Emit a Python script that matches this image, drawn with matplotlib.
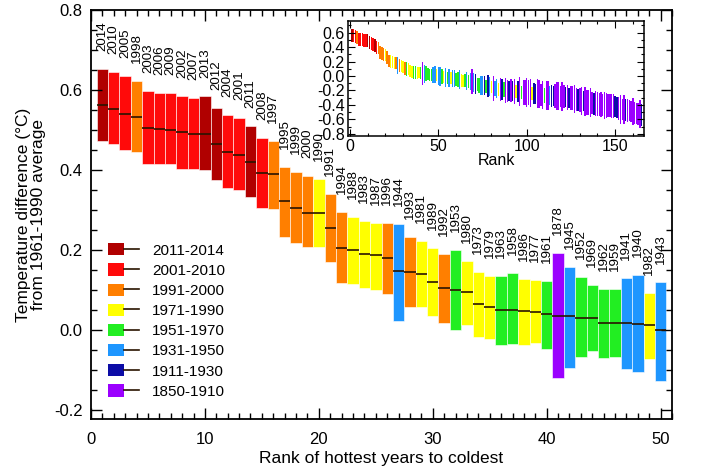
import numpy as np
import matplotlib.pyplot as plt
from matplotlib.patches import Patch
from matplotlib.lines import Line2D
from matplotlib.legend_handler import HandlerTuple
from matplotlib.ticker import MultipleLocator, FormatStrFormatter

plt.rcParams['font.family'] = ['Liberation Sans', 'DejaVu Sans']
plt.rcParams['axes.unicode_minus'] = False

# 50 hottest years, hottest first
rank_years = [2014, 2010, 2005, 1998, 2003, 2006, 2009, 2002, 2007, 2013,
              2012, 2004, 2001, 2011, 2008, 1997, 1995, 1999, 2000, 1990,
              1991, 1994, 1988, 1983, 1987, 1996, 1944, 1993, 1981, 1989,
              1992, 1953, 1980, 1973, 1979, 1963, 1958, 1986, 1977, 1961,
              1878, 1945, 1952, 1969, 1962, 1959, 1941, 1940, 1982, 1943]
med = [0.563, 0.553, 0.541, 0.533, 0.506, 0.503, 0.501, 0.494, 0.491, 0.490,
       0.465, 0.446, 0.437, 0.419, 0.393, 0.389, 0.322, 0.306, 0.293, 0.292,
       0.255, 0.206, 0.199, 0.190, 0.187, 0.181, 0.147, 0.145, 0.141, 0.120,
       0.105, 0.100, 0.094, 0.065, 0.058, 0.050, 0.049, 0.047, 0.046, 0.040,
       0.036, 0.034, 0.031, 0.030, 0.018, 0.017, 0.017, 0.016, 0.012, 0.000]
hi = [0.653, 0.644, 0.634, 0.622, 0.598, 0.592, 0.592, 0.586, 0.579, 0.584,
      0.556, 0.537, 0.529, 0.511, 0.480, 0.473, 0.408, 0.395, 0.384, 0.378,
      0.339, 0.296, 0.283, 0.273, 0.268, 0.267, 0.264, 0.233, 0.222, 0.204,
      0.190, 0.200, 0.173, 0.146, 0.134, 0.136, 0.142, 0.128, 0.125, 0.123,
      0.192, 0.157, 0.132, 0.113, 0.102, 0.103, 0.130, 0.138, 0.093, 0.119]
lo = [0.473, 0.464, 0.450, 0.445, 0.415, 0.415, 0.415, 0.403, 0.403, 0.400,
      0.375, 0.356, 0.350, 0.332, 0.304, 0.303, 0.233, 0.217, 0.207, 0.208,
      0.169, 0.118, 0.115, 0.105, 0.101, 0.090, 0.023, 0.057, 0.057, 0.036,
      0.017, 0.000, 0.013, -0.017, -0.022, -0.037, -0.036, -0.037, -0.033, -0.047,
      -0.119, -0.094, -0.068, -0.052, -0.069, -0.068, -0.097, -0.104, -0.072, -0.127]

period_labels = ['2011-2014', '2001-2010', '1991-2000', '1971-1990',
                 '1951-1970', '1931-1950', '1911-1930', '1850-1910']
period_starts = [2011, 2001, 1991, 1971, 1951, 1931, 1911, 1850]
period_colors = ['#b00000', '#ff0a0a', '#ff7f00', '#ffff00',
                 '#22ee22', '#1e96ff', '#0c0ca6', '#9b00ff']

# all years 1850-2014 for the inset
all_years = list(range(1850, 2015))
all_anom = [-0.373, -0.218, -0.228, -0.269, -0.248, -0.272, -0.358, -0.461, -0.467, -0.284,
            -0.343, -0.407, -0.524, -0.278, -0.494, -0.279, -0.251, -0.321, -0.238, -0.262,
            -0.276, -0.335, -0.227, -0.304, -0.368, -0.395, -0.384, -0.075, 0.036, -0.230,
            -0.227, -0.200, -0.213, -0.296, -0.409, -0.389, -0.367, -0.418, -0.307, -0.171,
            -0.416, -0.330, -0.455, -0.473, -0.410, -0.390, -0.186, -0.206, -0.412, -0.289,
            -0.203, -0.259, -0.402, -0.479, -0.520, -0.377, -0.283, -0.465, -0.511, -0.522,
            -0.490, -0.544, -0.437, -0.424, -0.244, -0.141, -0.383, -0.468, -0.333, -0.275,
            -0.247, -0.187, -0.302, -0.276, -0.294, -0.215, -0.108, -0.210, -0.206, -0.350,
            -0.137, -0.087, -0.137, -0.273, -0.131, -0.178, -0.147, -0.026, -0.006, -0.052,
            0.016, 0.017, -0.027, 0.000, 0.147, 0.034, -0.071, -0.038, -0.039, -0.074,
            -0.173, -0.052, 0.031, 0.100, -0.129, -0.190, -0.267, -0.007, 0.049, 0.017,
            -0.049, 0.040, 0.018, 0.050, -0.223, -0.140, -0.068, -0.074, -0.113, 0.030,
            -0.027, -0.186, -0.065, 0.065, -0.214, -0.149, -0.241, 0.046, -0.062, 0.058,
            0.094, 0.141, 0.012, 0.190, -0.014, -0.030, 0.047, 0.187, 0.199, 0.120,
            0.292, 0.255, 0.105, 0.145, 0.206, 0.322, 0.181, 0.389, 0.533, 0.306,
            0.293, 0.437, 0.494, 0.506, 0.446, 0.541, 0.503, 0.491, 0.393, 0.501,
            0.553, 0.419, 0.465, 0.490, 0.563]
# uncertainty half width per decade, 1850s ... 2010s
decade_halfwidth = [0.20, 0.19, 0.17, 0.17, 0.16, 0.15, 0.15, 0.14, 0.13,
                    0.12, 0.10, 0.09, 0.085, 0.085, 0.088, 0.09, 0.09]


def colour_of(year):
    for start, c in zip(period_starts, period_colors):
        if year >= start:
            return c
    return period_colors[-1]


W, H = 717, 472
fig = plt.figure(figsize=(W / 100, H / 100), dpi=100)
ax = fig.add_axes([91 / W, 1 - 419 / H, 581 / W, 409 / H])

ranks = np.arange(1, len(rank_years) + 1)
cols = [colour_of(y) for y in rank_years]
ax.bar(ranks, np.array(hi) - np.array(lo), bottom=lo, width=1.0, color=cols,
       edgecolor='white', linewidth=0.4)
ax.hlines(med, ranks - 0.5, ranks + 0.5, color='#2a1400', lw=1.2)
for r, y, h in zip(ranks, rank_years, hi):
    ax.text(r, h + 0.045, str(y), rotation=90, ha='center', va='bottom', fontsize=9.6)

ax.set_xlim(0, 51)
ax.set_ylim(-0.2225, 0.8)
ax.xaxis.set_major_locator(MultipleLocator(10))
ax.xaxis.set_minor_locator(MultipleLocator(1))
ax.yaxis.set_major_locator(MultipleLocator(0.2))
ax.yaxis.set_minor_locator(MultipleLocator(0.05))
ax.yaxis.set_major_formatter(FormatStrFormatter('%.1f'))
ax.tick_params(which='both', direction='in', top=True, right=True, labelsize=12, width=1)
ax.tick_params(which='major', length=8, pad=6)
ax.tick_params(axis='x', which='major', pad=9)
ax.tick_params(which='minor', length=4.5)
for s in ax.spines.values():
    s.set_linewidth(1.3)
ax.set_xlabel('Rank of hottest years to coldest', fontsize=12.5, labelpad=3)
ax.set_ylabel('Temperature difference (°C)\nfrom 1961-1990 average', fontsize=12.5,
              labelpad=6, linespacing=0.95)

handles = [(Patch(facecolor=c), Line2D([], [], color='#2a1400', lw=1.2)) for c in period_colors]
ax.legend(handles, period_labels, handler_map={tuple: HandlerTuple(ndivide=None)},
          loc='upper left', bbox_to_anchor=(0.03, 0.43), frameon=False, fontsize=11,
          handlelength=2.0, handleheight=0.85, handletextpad=0.85, labelspacing=0.38,
          borderpad=0, borderaxespad=0)

# inset with all years
top = set(rank_years)
rest = sorted([(a, y) for y, a in zip(all_years, all_anom) if y not in top], reverse=True)
in_years = rank_years + [y for a, y in rest]
in_lo = lo + [a - decade_halfwidth[(y - 1850) // 10] for a, y in rest]
in_hi = hi + [a + decade_halfwidth[(y - 1850) // 10] for a, y in rest]
in_ranks = np.arange(1, len(in_years) + 1)

axin = fig.add_axes([348.3 / W, 1 - 136 / H, 296 / W, 115 / H])
axin.bar(in_ranks, np.array(in_hi) - np.array(in_lo), bottom=in_lo, width=0.8,
         color=[colour_of(y) for y in in_years], linewidth=0)
axin.set_xlim(-1, 166.5)
axin.set_ylim(-0.83, 0.76)
axin.xaxis.set_major_locator(MultipleLocator(50))
axin.xaxis.set_minor_locator(MultipleLocator(10))
axin.yaxis.set_major_locator(MultipleLocator(0.2))
axin.yaxis.set_minor_locator(MultipleLocator(0.1))
axin.yaxis.set_major_formatter(FormatStrFormatter('%.1f'))
axin.tick_params(which='both', direction='in', top=True, right=True, labelsize=11.5, width=0.8)
axin.tick_params(which='major', length=5, pad=2.5)
axin.tick_params(which='minor', length=2.5)
for s in axin.spines.values():
    s.set_linewidth(1.1)
axin.set_xlabel('Rank', fontsize=11.5, labelpad=-1)

fig.savefig('out.png', dpi=100)
